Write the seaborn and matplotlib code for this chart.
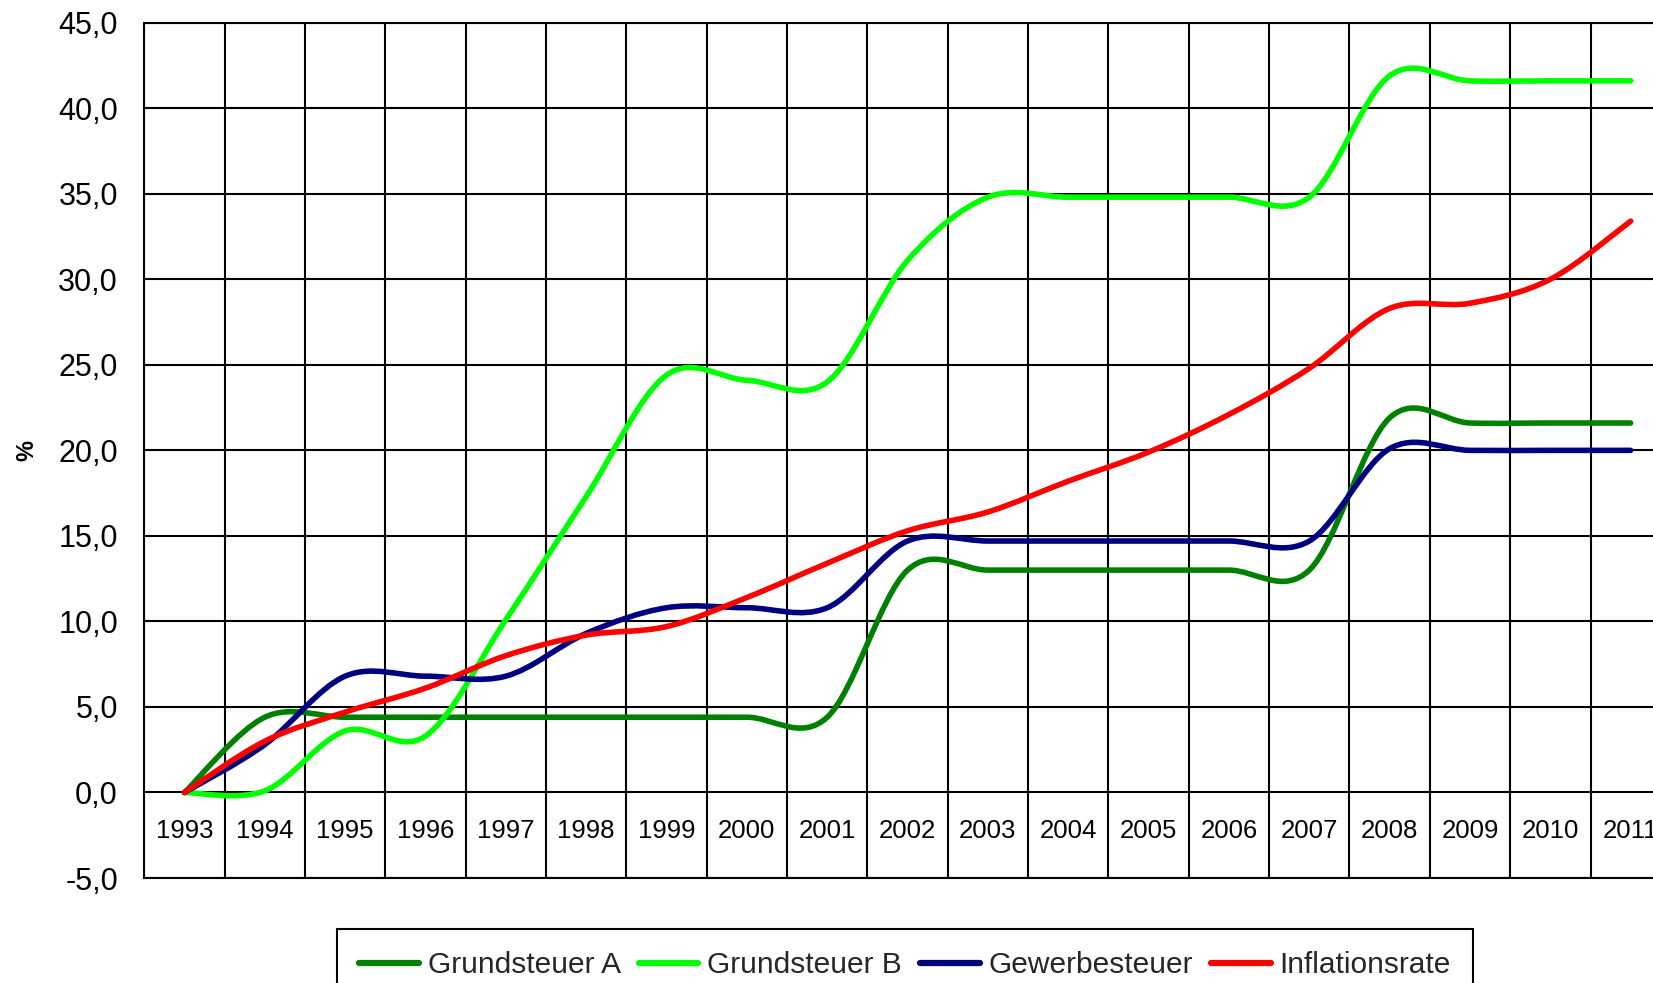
import numpy as np
import pandas as pd
import matplotlib
matplotlib.use("Agg")
import matplotlib.pyplot as plt
from matplotlib.path import Path
from matplotlib.patches import PathPatch
from matplotlib.ticker import FuncFormatter
import seaborn as sns

# --- Daten (Veraenderung ggue. 1993 in %) ---
jahre = ["1993", "1994", "1995", "1996", "1997", "1998", "1999", "2000", "2001", "2002",
         "2003", "2004", "2005", "2006", "2007", "2008", "2009", "2010", "2011"]
grundsteuer_a = [0.0, 4.4, 4.4, 4.4, 4.4, 4.4, 4.4, 4.4, 4.4, 13.0,
                 13.0, 13.0, 13.0, 13.0, 13.0, 21.9, 21.6, 21.6, 21.6]
grundsteuer_b = [0.0, 0.1, 3.6, 3.3, 10.1, 17.3, 24.4, 24.1, 24.0, 31.1,
                 34.8, 34.8, 34.8, 34.8, 34.8, 41.9, 41.6, 41.6, 41.6]
gewerbesteuer = [0.0, 2.8, 6.8, 6.8, 6.8, 9.3, 10.8, 10.8, 10.8, 14.7,
                 14.7, 14.7, 14.7, 14.7, 14.7, 20.1, 20.0, 20.0, 20.0]
inflationsrate = [0.0, 3.0, 4.7, 6.1, 8.0, 9.2, 9.7, 11.4, 13.4, 15.3,
                  16.4, 18.2, 19.9, 22.1, 24.8, 28.3, 28.6, 30.0, 33.4]

reihen = ["Grundsteuer A", "Grundsteuer B", "Gewerbesteuer", "Inflationsrate"]
farben = {"Grundsteuer A": "#008000", "Grundsteuer B": "#00FF00",
          "Gewerbesteuer": "#000080", "Inflationsrate": "#FF0000"}
werte = {"Grundsteuer A": grundsteuer_a, "Grundsteuer B": grundsteuer_b,
         "Gewerbesteuer": gewerbesteuer, "Inflationsrate": inflationsrate}

df = pd.DataFrame({
    "pos": list(range(len(jahre))) * len(reihen),
    "Wert": sum((werte[r] for r in reihen), []),
    "Reihe": [r for r in reihen for _ in jahre],
})


def glatte_kurve(xs, ys):
    """Geglaettete Linie wie in Excel (Bezier durch die Datenpunkte)."""
    pts = np.column_stack([xs, ys]).astype(float)
    pad = np.vstack([pts[:1], pts, pts[-1:]])
    tang = (pad[2:] - pad[:-2]) / 6.0
    verts = [pts[0]]
    codes = [Path.MOVETO]
    for i in range(len(pts) - 1):
        verts += [pts[i] + tang[i], pts[i + 1] - tang[i + 1], pts[i + 1]]
        codes += [Path.CURVE4] * 3
    return Path(verts, codes)


sns.set_theme(style="white")
plt.rcParams["font.family"] = ["Liberation Sans", "DejaVu Sans"]

fig = plt.figure(figsize=(16.53, 9.83), dpi=100)
ax = fig.add_axes([0.0873, 0.1068, 0.9235, 0.8701])

# seaborn liefert Legende/Farbzuordnung, die Kurven selbst werden geglaettet gezeichnet
sns.lineplot(data=df, x="pos", y="Wert", hue="Reihe", hue_order=reihen,
             palette=farben, linewidth=0, ax=ax)
for line in ax.lines:
    line.set_visible(False)

for r in reihen:
    kurve = glatte_kurve(np.arange(len(jahre)), werte[r])
    ax.add_patch(PathPatch(kurve, facecolor="none", edgecolor=farben[r], lw=4.0,
                           capstyle="round", joinstyle="round", zorder=3))

ax.set_xlim(-0.5, len(jahre) - 0.5)
ax.set_ylim(-5, 45)
ax.set_xticks(np.arange(len(jahre)))
ax.set_xticklabels(jahre)
ax.set_xticks(np.arange(-0.5, len(jahre), 1), minor=True)
ax.set_yticks(np.arange(-5, 46, 5))
ax.yaxis.set_major_formatter(FuncFormatter(lambda v, p: f"{v:.1f}".replace(".", ",")))

ax.set_axisbelow(True)
ax.grid(False)
ax.xaxis.grid(True, which="minor", color="black", lw=1.5)
ax.yaxis.grid(True, which="major", color="black", lw=1.5)
for s in ax.spines.values():
    s.set_color("black")
    s.set_linewidth(1.5)

ax.tick_params(axis="both", which="both", length=0)
ax.tick_params(axis="y", labelsize=22, pad=19, colors="black")
ax.tick_params(axis="x", which="major", labelsize=18.5, pad=-34, colors="black")
for lab in ax.get_xticklabels():
    lab.set_va("center")

ax.set_xlabel("")
ax.set_ylabel("%", fontsize=17, fontweight="bold", labelpad=14, color="black")

sns.move_legend(ax, "upper center", bbox_to_anchor=(0.5475, 0.055),
                bbox_transform=fig.transFigure, ncol=4, title=None, frameon=True,
                fontsize=21.5, handlelength=2.0, handletextpad=0.3, columnspacing=0.6,
                borderpad=0.75, borderaxespad=0, fancybox=False, edgecolor="black",
                framealpha=1)
leg = ax.get_legend()
for h in leg.get_lines():
    h.set_linewidth(4.5)
    h.set_alpha(1)
leg.get_frame().set_linewidth(1.5)

fig.savefig("out.png", dpi=100)
